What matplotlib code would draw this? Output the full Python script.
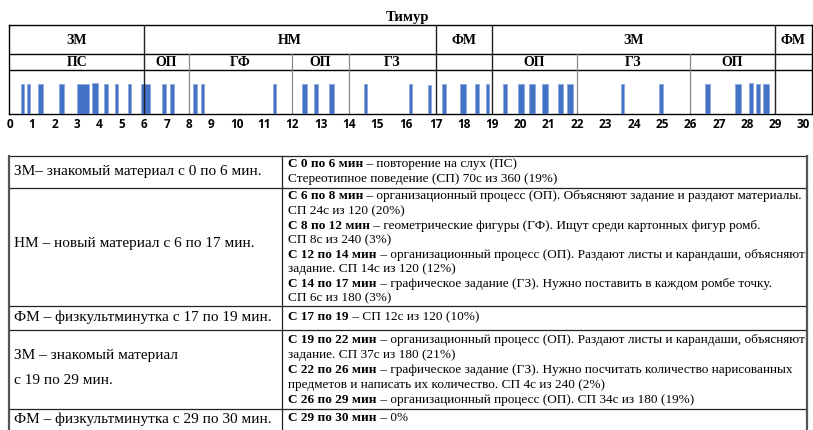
import matplotlib
matplotlib.use('Agg')
import matplotlib.pyplot as plt
import numpy as np

# --- данные: эпизоды стереотипного поведения (начало, длительность в минутах) ---
bar_start = [0.48, 0.77, 1.26, 2.16, 3.02, 3.67, 4.20, 4.69, 5.25, 5.88,
             6.80, 7.15, 8.20, 8.55, 11.31, 12.33, 12.77, 13.29, 14.53,
             16.10, 16.73, 17.22, 17.86, 18.40, 18.79, 19.40, 19.94, 20.33,
             20.80, 21.34, 21.66, 23.54, 24.90, 26.52, 27.57, 28.08, 28.32, 28.56]
bar_width = [0.15, 0.15, 0.20, 0.25, 0.52, 0.30, 0.21, 0.14, 0.14, 0.37,
             0.15, 0.15, 0.15, 0.13, 0.12, 0.20, 0.12, 0.19, 0.10,
             0.11, 0.10, 0.13, 0.20, 0.12, 0.11, 0.12, 0.20, 0.21,
             0.19, 0.18, 0.19, 0.12, 0.12, 0.17, 0.22, 0.12, 0.14, 0.23]
bar_height = [1.0] * len(bar_start)
bar_height[5] = 1.05
bar_height[20] = 0.96
bar_height[35] = 1.04

# этапы занятия (верхняя строка) и виды деятельности (вторая строка)
stage_bounds = [0, 6, 17, 19, 29, 30.32]
stage_labels = ['ЗМ', 'НМ', 'ФМ', 'ЗМ', 'ФМ']
act_bounds = [0, 6, 8, 12, 14, 17, 19, 22, 26, 29, 30.32]
act_labels = ['ПС', 'ОП', 'ГФ', 'ОП', 'ГЗ', '', 'ОП', 'ГЗ', 'ОП', '']
minutes = list(range(31))

# таблица под графиком
left_col = [
    (172, 'ЗМ– знакомый материал с 0 по 6 мин.'),
    (244, 'НМ – новый материал с 6 по 17 мин.'),
    (317, 'ФМ – физкультминутка с 17 по 19 мин.'),
    (355, 'ЗМ – знакомый материал'),
    (380, 'с 19 по 29 мин.'),
    (419, 'ФМ – физкультминутка с 29 по 30 мин.'),
]
right_col = [
    (164, 'С 0 по 6 мин', ' – повторение на слух (ПС)'),
    (179, '', 'Стереотипное поведение (СП) 70с из 360 (19%)'),
    (196, 'С 6 по 8 мин', ' – организационный процесс (ОП). Объясняют задание и раздают материалы.'),
    (211, '', 'СП 24с из 120 (20%)'),
    (226, 'С 8 по 12 мин', ' – геометрические фигуры (ГФ). Ищут среди картонных фигур ромб.'),
    (240, '', 'СП 8с из 240 (3%)'),
    (255, 'С 12 по 14 мин', ' – организационный процесс (ОП). Раздают листы и карандаши, объясняют'),
    (269, '', 'задание. СП 14с из 120 (12%)'),
    (284, 'С 14 по 17 мин', ' – графическое задание (ГЗ). Нужно поставить в каждом ромбе точку.'),
    (298, '', 'СП 6с из 180 (3%)'),
    (317, 'С 17 по 19', ' – СП 12с из 120 (10%)'),
    (340, 'С 19 по 22 мин', ' – организационный процесс (ОП). Раздают листы и карандаши, объясняют'),
    (355, '', 'задание. СП 37с из 180 (21%)'),
    (370, 'С 22 по 26 мин', ' – графическое задание (ГЗ). Нужно посчитать количество нарисованных'),
    (385, '', 'предметов и написать их количество. СП 4с из 240 (2%)'),
    (400, 'С 26 по 29 мин', ' – организационный процесс (ОП). СП 34с из 180 (19%)'),
    (418, 'С 29 по 30 мин', ' – 0%'),
]
row_lines = [156, 188, 306, 330, 409]

W, H = 813, 430
fig = plt.figure(figsize=(W / 100, H / 100), dpi=100)
serif = 'Liberation Serif'

# неравномерная шкала времени, как на исходной шкале
tick_px = [10, 32, 55, 77, 99, 122, 144, 167, 189, 211, 237, 264, 292, 321, 349,
           377, 406, 436, 464, 492, 520, 548, 577, 605, 634, 662, 690, 719, 747, 775, 803]
m_anchor = np.array([-1] + minutes + [31], dtype=float)
p_anchor = np.array([tick_px[0] - 22.3] + tick_px + [tick_px[-1] + 28], dtype=float)


def fwd(m):
    return np.interp(m, m_anchor, p_anchor)


def inv(p):
    return np.interp(p, p_anchor, m_anchor)


def mid(a, b):
    return inv((fwd(a) + fwd(b)) / 2)


ax = fig.add_axes([9 / W, (H - 114) / H, (812 - 9) / W, 89 / H])
ax.set_xscale('function', functions=(fwd, inv))
ax.bar(bar_start, bar_height, width=bar_width, align='edge',
       color='#4472C4', edgecolor='#8FAADC', linewidth=0.6, zorder=3)
ax.set_xlim(inv(9), inv(812))
ytop = 89 / 30
ax.set_ylim(0, ytop)
ax.set_yticks([])
ax.set_xticks(minutes)
ax.set_xticklabels([str(m) for m in minutes], fontsize=8.5, fontweight='bold',
                   family='Open Sans')
ax.tick_params(axis='x', length=0, pad=3)
for s in ax.spines.values():
    s.set_color('black')
    s.set_linewidth(1)

y_row2 = 44 / 89
y_row1 = 59.7 / 89
ax.axhline(y_row2 * ytop, color='black', lw=1)
ax.axhline(y_row1 * ytop, color='black', lw=1)
for b in stage_bounds[1:-1]:
    ax.axvline(b, 0, 1, color='#222222', lw=1, zorder=4)
for b in act_bounds[1:-1]:
    if b not in stage_bounds:
        ax.axvline(b, 0, y_row1, color='#888888', lw=0.9, zorder=2)

tr = ax.get_xaxis_transform()
for i, lab in enumerate(stage_labels):
    ax.text(mid(stage_bounds[i], stage_bounds[i + 1]), 0.83, lab, transform=tr,
            ha='center', va='center', fontsize=10, fontweight='bold', family=serif)
for i, lab in enumerate(act_labels):
    ax.text(mid(act_bounds[i], act_bounds[i + 1]), 0.58, lab, transform=tr,
            ha='center', va='center', fontsize=10, fontweight='bold', family=serif)

fig.text(407 / W, 1 - 17 / H, 'Тимур', ha='center', va='center',
         fontsize=10.5, fontweight='bold', family=serif)

# таблица
tb = fig.add_axes([0, 0, 1, 1])
tb.set_xlim(0, W)
tb.set_ylim(H, 0)
tb.axis('off')
for y in row_lines:
    tb.plot([9, 807], [y, y], color='#222222', lw=0.9)
tb.plot([9, 9], [row_lines[0], H], color='#555555', lw=1.6)
tb.plot([807, 807], [row_lines[0], H], color='#555555', lw=1.6)
tb.plot([282, 282], [row_lines[0], H], color='#222222', lw=0.9)

for y, s in left_col:
    tb.text(14, y, s, ha='left', va='center', fontsize=11, family=serif)

renderer = fig.canvas.get_renderer()
for y, b, s in right_col:
    x = 288
    if b:
        t = tb.text(x, y, b, ha='left', va='center', fontsize=9.5,
                    fontweight='bold', family=serif)
        x1 = t.get_window_extent(renderer).x1
        x = tb.transData.inverted().transform((x1, 0))[0]
    tb.text(x, y, s, ha='left', va='center', fontsize=9.5, family=serif)

fig.savefig('out.png', dpi=100)
